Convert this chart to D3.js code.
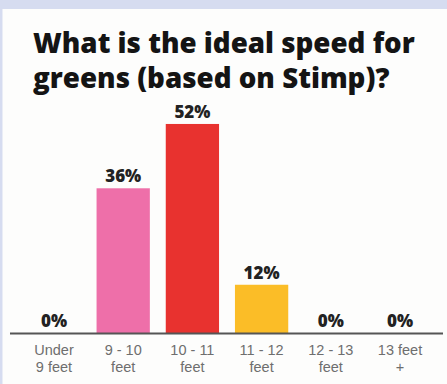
<!DOCTYPE html>
<html>
<head>
<meta charset="utf-8">
<script src="https://cdn.jsdelivr.net/npm/d3@7"></script>
<style>
  html, body { margin: 0; padding: 0; background: #d6dcf0; }
  svg { display: block; }
</style>
</head>
<body>
<svg id="chart" width="447" height="384"></svg>
<script>
// Survey answers: ideal green speed (Stimp reading)
const categories = ["Under 9 feet", "9 - 10 feet", "10 - 11 feet", "11 - 12 feet", "12 - 13 feet", "13 feet +"];
const categoryLines = [["Under", "9 feet"], ["9 - 10", "feet"], ["10 - 11", "feet"], ["11 - 12", "feet"], ["12 - 13", "feet"], ["13 feet", "+"]];
const shares = [0, 36, 52, 12, 0, 0];
const barColors = ["#ee6fa9", "#ee6fa9", "#e8322f", "#fbbd27", "#fbbd27", "#fbbd27"];
const titleLines = ["What is the ideal speed for", "greens (based on Stimp)?"];

const W = 447, H = 384;
const svg = d3.select("#chart");

// white card over the lavender frame
svg.append("rect").attr("x", 2.5).attr("y", 9).attr("width", W - 2.5).attr("height", H - 9).attr("fill", "#fdfdfc");

// title, sized so the first line spans the card
const title = svg.append("g");
const t1 = title.append("text").text(titleLines[0])
  .attr("x", 33).attr("y", 53)
  .attr("font-family", "'Open Sans', sans-serif").attr("font-weight", 800)
  .attr("font-size", 29).attr("fill", "#141414");
const fs = 29 * 382 / t1.node().getComputedTextLength();
t1.attr("font-size", fs);
title.append("text").text(titleLines[1])
  .attr("x", 33).attr("y", 88)
  .attr("font-family", "'Open Sans', sans-serif").attr("font-weight", 800)
  .attr("font-size", fs).attr("fill", "#141414");

const x = d3.scaleBand().domain(categories).range([19.4, 434.6]).paddingInner(0.23).paddingOuter(0.115);
const y = d3.scaleLinear().domain([0, 55]).range([333, 333 - 55 * 4.02]);

// bars
svg.append("g").selectAll("rect").data(categories).join("rect")
  .attr("x", d => x(d))
  .attr("width", x.bandwidth())
  .attr("y", (d, i) => y(shares[i]))
  .attr("height", (d, i) => y(0) - y(shares[i]))
  .attr("fill", (d, i) => barColors[i]);

// value labels
svg.append("g").selectAll("text").data(categories).join("text")
  .attr("x", d => x(d) + x.bandwidth() / 2)
  .attr("y", (d, i) => y(shares[i]) - 6)
  .attr("text-anchor", "middle")
  .attr("font-family", "'Open Sans', sans-serif").attr("font-weight", 800)
  .attr("font-size", 17).attr("fill", "#222")
  .text((d, i) => shares[i] + "%");

// baseline axis with two-line category labels
const axis = svg.append("g").attr("transform", `translate(0,${y(0)})`)
  .call(d3.axisBottom(x).tickSize(0).tickFormat(""));
axis.select(".domain").remove();
axis.append("line").attr("x1", 10).attr("x2", 443).attr("y1", 0.5).attr("y2", 0.5)
  .attr("stroke", "#555").attr("stroke-width", 2);
axis.selectAll(".tick").each(function (d, i) {
  const t = d3.select(this).append("text")
    .attr("text-anchor", "middle")
    .attr("font-family", "'Liberation Sans', Arial, sans-serif")
    .attr("font-size", 14.5).attr("fill", "#6e6e6e");
  categoryLines[i].forEach((line, k) => {
    t.append("tspan").attr("x", 0).attr("y", 22 + k * 17).text(line);
  });
});
</script>
</body>
</html>
